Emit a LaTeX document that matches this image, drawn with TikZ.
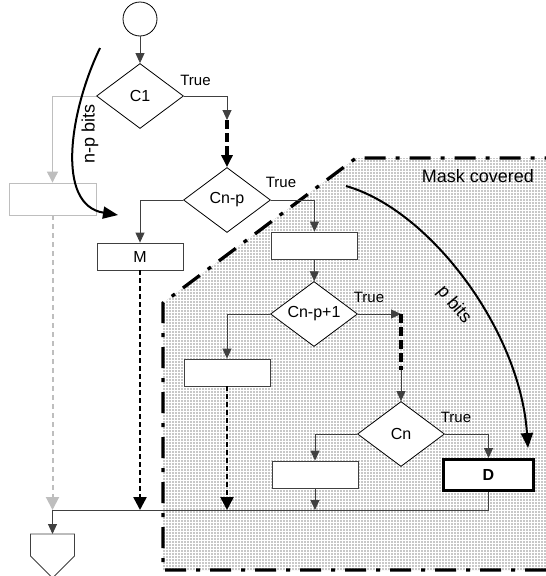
\documentclass[tikz,border=0pt]{standalone}
\usepackage{fontspec}
\setmainfont{Liberation Sans}
\usetikzlibrary{arrows.meta,shapes.geometric,patterns}
\definecolor{lgray}{RGB}{190,190,190}
\definecolor{cgray}{RGB}{64,64,64}
\definecolor{maskgray}{RGB}{200,200,200}
\begin{document}
\begin{tikzpicture}[x=1pt,y=-1pt,
  every node/.style={font=\fontsize{16}{19}\selectfont},
  dia/.style={draw=black, fill=white, shape=diamond, aspect=1.3, inner sep=0pt, minimum width=87pt, minimum height=65pt, line width=0.8pt},
  box/.style={draw=cgray, fill=white, rectangle, inner sep=0pt, minimum width=86pt, minimum height=27pt, line width=0.8pt},
  gbox/.style={draw=lgray, fill=white, rectangle, inner sep=0pt, minimum width=87pt, minimum height=32pt, line width=0.8pt},
  dbox/.style={draw=black, fill=white, rectangle, inner sep=0pt, minimum width=90pt, minimum height=31pt, line width=3pt},
  circ/.style={draw=black, fill=white, circle, minimum size=34pt, inner sep=0pt, line width=0.8pt},
  arr/.style={draw=cgray, line width=0.9pt, -{Triangle[length=10pt,width=9pt]}},
  garr/.style={draw=lgray, line width=0.9pt, -{Triangle[length=11pt,width=11pt]}},
  gdash/.style={draw=lgray, line width=2pt, dash pattern=on 5pt off 4pt, -{Triangle[length=13pt,width=13pt]}},
  dotarr/.style={draw=black, line width=2.5pt, dash pattern=on 5pt off 3pt, -{Triangle[length=13pt,width=13pt]}},
  thickdash/.style={draw=black, line width=3.5pt, dash pattern=on 9pt off 4pt},
  thickdasharr/.style={thickdash, -{Triangle[length=12pt,width=11pt]}},
  curvearr/.style={draw=black, line width=2pt, -{Triangle[length=15pt,width=12pt]}},
  truelbl/.style={font=\fontsize{15}{18}\selectfont, inner sep=0pt},
  bitlbl/.style={font=\fontsize{18}{21}\selectfont, inner sep=0pt},
  maskborder/.style={draw=black, line width=3.3pt, dash pattern=on 21pt off 10pt on 4pt off 10pt}
]
\useasboundingbox (0,0) rectangle (546,576);

% mask covered region
\fill[maskgray] (163,570) -- (163,303) -- (356,158) -- (546,158) -- (546,570) -- cycle;
\fill[pattern=grid, pattern color=white] (163,570) -- (163,303) -- (356,158) -- (546,158) -- (546,570) -- cycle;
\draw[maskborder] (546,570) -- (163,570) -- (163,303) -- (356,158) -- (546,158);
\node[font=\fontsize{18}{21}\selectfont, inner sep=0pt] (masklbl) at (478,176) {Mask covered};

% nodes
\node[circ] (start) at (140,19) {};
\node[dia] (c1) at (140,96) {C1};
\node[dia] (cnp) at (227,200) {Cn-p};
\node[gbox] (g) at (52.5,199) {};
\node[box] (m) at (140,256.5) {M};
\node[box] (b1) at (314.5,245.5) {};
\node[dia] (cnp1) at (314,314) {Cn-p+1};
\node[box] (b2) at (227,372.5) {};
\node[dia] (cn) at (401,434) {Cn};
\node[box] (b3) at (315,474.5) {};
\node[dbox] (d) at (488.5,475) {\textbf{D}};

% end connector shape
\coordinate (endtop) at (52.5,534);
\draw[draw=cgray, line width=0.8pt, fill=white] (30.5,534) -- (74.5,534) -- (74.5,556) -- (52.5,578) -- (30.5,556) -- cycle;

% labels
\node[truelbl] (t1) at (195.5,80) {True};
\node[truelbl] (t2) at (281,182) {True};
\node[truelbl] (t3) at (369,297) {True};
\node[truelbl] (t4) at (456,417) {True};

% junction coordinates
\coordinate (jl) at (52.5,510);
\coordinate (k1) at (227,120);
\coordinate (k2) at (401,314);
\coordinate (k3) at (401,370);

% connectors
\draw[arr] (start) -- (c1);
\draw[arr] (c1.east) -| (k1);
\draw[thickdasharr] (k1) -- (cnp.north);
\draw[garr] (c1.west) -| (g.north);
\draw[gdash] (g.south) -- (jl);
\draw[arr] (cnp.west) -| (m.north);
\draw[dotarr] (m.south) -- (m.south |- jl);
\draw[arr] (cnp.east) -| (b1.north);
\draw[arr] (b1) -- (cnp1);
\draw[arr] (cnp1.west) -| (b2.north);
\draw[dotarr] (b2.south) -- (b2.south |- jl);
\draw[arr] (cnp1.east) -- (k2);
\draw[thickdash] (k2) -- (k3);
\draw[arr] (k3) -- (cn.north);
\draw[arr] (cn.west) -| (b3.north);
\draw[arr] (b3.south) -- (b3.south |- jl);
\draw[arr] (cn.east) -| (d.north);
\draw[arr] (d.south) |- (jl) -- (endtop);

% bit arrows
\coordinate (npS) at (100,48);
\coordinate (npE) at (118,215);
\draw[curvearr] (npS) .. controls (70,110) and (55,205) .. (npE);
\node[bitlbl, rotate=90] (nplbl) at (90,134) {n-p bits};
\coordinate (pS) at (346,186);
\coordinate (pE) at (528,448);
\draw[curvearr] (pS) .. controls (430,210) and (520,330) .. (pE);
\node[bitlbl, rotate=-50] (plbl) at (454,305) {p bits};
\end{tikzpicture}
\end{document}
